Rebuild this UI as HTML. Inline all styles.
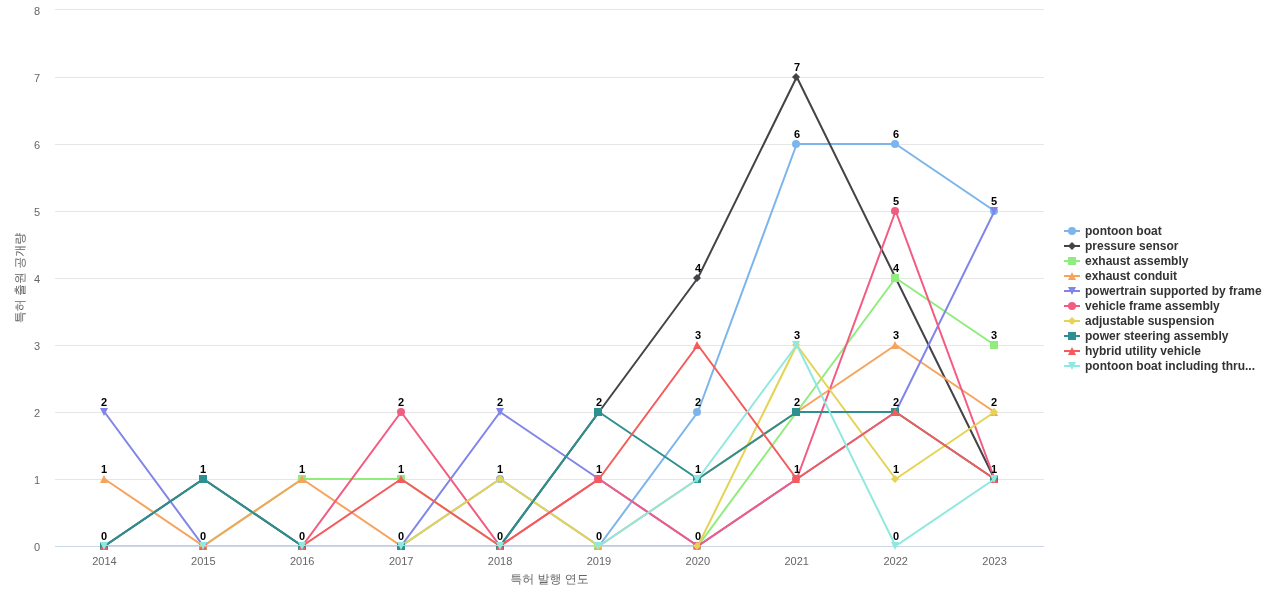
<!DOCTYPE html>
<html lang="ko">
<head>
<meta charset="utf-8">
<title>특허 출원 공개량</title>
<style>
html,body{margin:0;padding:0;background:#ffffff;}
body{width:1280px;height:600px;overflow:hidden;font-family:"Liberation Sans","WenQuanYi Zen Hei",sans-serif;}
svg{display:block;}
svg text{font-family:"Liberation Sans","WenQuanYi Zen Hei",sans-serif;}
.ax{font-size:11px;fill:#666666;}
.ttl{font-size:12px;fill:#666666;}
.dl{font-size:11px;font-weight:bold;fill:#000000;}
.lg{font-size:12px;font-weight:bold;fill:#333333;}
</style>
</head>
<body>
<svg width="1280" height="600" viewBox="0 0 1280 600">
<defs><clipPath id="plot"><rect x="55" y="10" width="989" height="536"/></clipPath></defs>
<rect x="0" y="0" width="1280" height="600" fill="#ffffff"/>

<g stroke="#e6e6e6" stroke-width="1" fill="none">
<path d="M55 546.5 L1044 546.5"/>
<path d="M55 479.5 L1044 479.5"/>
<path d="M55 412.5 L1044 412.5"/>
<path d="M55 345.5 L1044 345.5"/>
<path d="M55 278.5 L1044 278.5"/>
<path d="M55 211.5 L1044 211.5"/>
<path d="M55 144.5 L1044 144.5"/>
<path d="M55 77.5 L1044 77.5"/>
<path d="M55 9.5 L1044 9.5"/>
</g>
<path d="M55 546.5 L1044 546.5" stroke="#ccd6eb" stroke-width="1" fill="none"/>
<text class="ttl" x="549.5" y="583" text-anchor="middle">특허 발행 연도</text>
<text class="ttl" x="24" y="278" text-anchor="middle" transform="rotate(270 24 278)">특허 출원 공개량</text>
<g clip-path="url(#plot)"><path d="M 104.45 546 L 203.35 546 L 302.25 546 L 401.15 546 L 500.05 479 L 598.95 546 L 697.85 412 L 796.75 144 L 895.65 144 L 994.55 211" fill="none" stroke="#7cb5ec" stroke-width="2" stroke-linejoin="round" stroke-linecap="round"/></g>
<g>
<circle cx="104" cy="546" r="4" fill="#7cb5ec"/>
<circle cx="203" cy="546" r="4" fill="#7cb5ec"/>
<circle cx="302" cy="546" r="4" fill="#7cb5ec"/>
<circle cx="401" cy="546" r="4" fill="#7cb5ec"/>
<circle cx="500" cy="479" r="4" fill="#7cb5ec"/>
<circle cx="598" cy="546" r="4" fill="#7cb5ec"/>
<circle cx="697" cy="412" r="4" fill="#7cb5ec"/>
<circle cx="796" cy="144" r="4" fill="#7cb5ec"/>
<circle cx="895" cy="144" r="4" fill="#7cb5ec"/>
<circle cx="994" cy="211" r="4" fill="#7cb5ec"/>
</g>
<g clip-path="url(#plot)"><path d="M 104.45 546 L 203.35 479 L 302.25 546 L 401.15 546 L 500.05 546 L 598.95 412 L 697.85 278 L 796.75 77 L 895.65 278 L 994.55 479" fill="none" stroke="#434348" stroke-width="2" stroke-linejoin="round" stroke-linecap="round"/></g>
<g>
<path d="M104 542L108 546L104 550L100 546Z" fill="#434348"/>
<path d="M203 475L207 479L203 483L199 479Z" fill="#434348"/>
<path d="M302 542L306 546L302 550L298 546Z" fill="#434348"/>
<path d="M401 542L405 546L401 550L397 546Z" fill="#434348"/>
<path d="M500 542L504 546L500 550L496 546Z" fill="#434348"/>
<path d="M598 408L602 412L598 416L594 412Z" fill="#434348"/>
<path d="M697 274L701 278L697 282L693 278Z" fill="#434348"/>
<path d="M796 73L800 77L796 81L792 77Z" fill="#434348"/>
<path d="M895 274L899 278L895 282L891 278Z" fill="#434348"/>
<path d="M994 475L998 479L994 483L990 479Z" fill="#434348"/>
</g>
<g clip-path="url(#plot)"><path d="M 104.45 546 L 203.35 546 L 302.25 479 L 401.15 479 L 500.05 546 L 598.95 546 L 697.85 546 L 796.75 412 L 895.65 278 L 994.55 345" fill="none" stroke="#90ed7d" stroke-width="2" stroke-linejoin="round" stroke-linecap="round"/></g>
<g>
<rect x="100" y="542" width="8" height="8" fill="#90ed7d"/>
<rect x="199" y="542" width="8" height="8" fill="#90ed7d"/>
<rect x="298" y="475" width="8" height="8" fill="#90ed7d"/>
<rect x="397" y="475" width="8" height="8" fill="#90ed7d"/>
<rect x="496" y="542" width="8" height="8" fill="#90ed7d"/>
<rect x="594" y="542" width="8" height="8" fill="#90ed7d"/>
<rect x="693" y="542" width="8" height="8" fill="#90ed7d"/>
<rect x="792" y="408" width="8" height="8" fill="#90ed7d"/>
<rect x="891" y="274" width="8" height="8" fill="#90ed7d"/>
<rect x="990" y="341" width="8" height="8" fill="#90ed7d"/>
</g>
<g clip-path="url(#plot)"><path d="M 104.45 479 L 203.35 546 L 302.25 479 L 401.15 546 L 500.05 546 L 598.95 546 L 697.85 479 L 796.75 412 L 895.65 345 L 994.55 412" fill="none" stroke="#f7a35c" stroke-width="2" stroke-linejoin="round" stroke-linecap="round"/></g>
<g>
<path d="M104 475L108 483L100 483Z" fill="#f7a35c"/>
<path d="M203 542L207 550L199 550Z" fill="#f7a35c"/>
<path d="M302 475L306 483L298 483Z" fill="#f7a35c"/>
<path d="M401 542L405 550L397 550Z" fill="#f7a35c"/>
<path d="M500 542L504 550L496 550Z" fill="#f7a35c"/>
<path d="M598 542L602 550L594 550Z" fill="#f7a35c"/>
<path d="M697 475L701 483L693 483Z" fill="#f7a35c"/>
<path d="M796 408L800 416L792 416Z" fill="#f7a35c"/>
<path d="M895 341L899 349L891 349Z" fill="#f7a35c"/>
<path d="M994 408L998 416L990 416Z" fill="#f7a35c"/>
</g>
<g clip-path="url(#plot)"><path d="M 104.45 412 L 203.35 546 L 302.25 546 L 401.15 546 L 500.05 412 L 598.95 479 L 697.85 546 L 796.75 479 L 895.65 412 L 994.55 211" fill="none" stroke="#8085e9" stroke-width="2" stroke-linejoin="round" stroke-linecap="round"/></g>
<g>
<path d="M100 408L108 408L104 416Z" fill="#8085e9"/>
<path d="M199 542L207 542L203 550Z" fill="#8085e9"/>
<path d="M298 542L306 542L302 550Z" fill="#8085e9"/>
<path d="M397 542L405 542L401 550Z" fill="#8085e9"/>
<path d="M496 408L504 408L500 416Z" fill="#8085e9"/>
<path d="M594 475L602 475L598 483Z" fill="#8085e9"/>
<path d="M693 542L701 542L697 550Z" fill="#8085e9"/>
<path d="M792 475L800 475L796 483Z" fill="#8085e9"/>
<path d="M891 408L899 408L895 416Z" fill="#8085e9"/>
<path d="M990 207L998 207L994 215Z" fill="#8085e9"/>
</g>
<g clip-path="url(#plot)"><path d="M 104.45 546 L 203.35 546 L 302.25 546 L 401.15 412 L 500.05 546 L 598.95 479 L 697.85 546 L 796.75 479 L 895.65 211 L 994.55 479" fill="none" stroke="#f15c80" stroke-width="2" stroke-linejoin="round" stroke-linecap="round"/></g>
<g>
<circle cx="104" cy="546" r="4" fill="#f15c80"/>
<circle cx="203" cy="546" r="4" fill="#f15c80"/>
<circle cx="302" cy="546" r="4" fill="#f15c80"/>
<circle cx="401" cy="412" r="4" fill="#f15c80"/>
<circle cx="500" cy="546" r="4" fill="#f15c80"/>
<circle cx="598" cy="479" r="4" fill="#f15c80"/>
<circle cx="697" cy="546" r="4" fill="#f15c80"/>
<circle cx="796" cy="479" r="4" fill="#f15c80"/>
<circle cx="895" cy="211" r="4" fill="#f15c80"/>
<circle cx="994" cy="479" r="4" fill="#f15c80"/>
</g>
<g clip-path="url(#plot)"><path d="M 104.45 546 L 203.35 546 L 302.25 546 L 401.15 546 L 500.05 479 L 598.95 546 L 697.85 546 L 796.75 345 L 895.65 479 L 994.55 412" fill="none" stroke="#e4d354" stroke-width="2" stroke-linejoin="round" stroke-linecap="round"/></g>
<g>
<path d="M104 542L108 546L104 550L100 546Z" fill="#e4d354"/>
<path d="M203 542L207 546L203 550L199 546Z" fill="#e4d354"/>
<path d="M302 542L306 546L302 550L298 546Z" fill="#e4d354"/>
<path d="M401 542L405 546L401 550L397 546Z" fill="#e4d354"/>
<path d="M500 475L504 479L500 483L496 479Z" fill="#e4d354"/>
<path d="M598 542L602 546L598 550L594 546Z" fill="#e4d354"/>
<path d="M697 542L701 546L697 550L693 546Z" fill="#e4d354"/>
<path d="M796 341L800 345L796 349L792 345Z" fill="#e4d354"/>
<path d="M895 475L899 479L895 483L891 479Z" fill="#e4d354"/>
<path d="M994 408L998 412L994 416L990 412Z" fill="#e4d354"/>
</g>
<g clip-path="url(#plot)"><path d="M 104.45 546 L 203.35 479 L 302.25 546 L 401.15 546 L 500.05 546 L 598.95 412 L 697.85 479 L 796.75 412 L 895.65 412 L 994.55 479" fill="none" stroke="#2b908f" stroke-width="2" stroke-linejoin="round" stroke-linecap="round"/></g>
<g>
<rect x="100" y="542" width="8" height="8" fill="#2b908f"/>
<rect x="199" y="475" width="8" height="8" fill="#2b908f"/>
<rect x="298" y="542" width="8" height="8" fill="#2b908f"/>
<rect x="397" y="542" width="8" height="8" fill="#2b908f"/>
<rect x="496" y="542" width="8" height="8" fill="#2b908f"/>
<rect x="594" y="408" width="8" height="8" fill="#2b908f"/>
<rect x="693" y="475" width="8" height="8" fill="#2b908f"/>
<rect x="792" y="408" width="8" height="8" fill="#2b908f"/>
<rect x="891" y="408" width="8" height="8" fill="#2b908f"/>
<rect x="990" y="475" width="8" height="8" fill="#2b908f"/>
</g>
<g clip-path="url(#plot)"><path d="M 104.45 546 L 203.35 546 L 302.25 546 L 401.15 479 L 500.05 546 L 598.95 479 L 697.85 345 L 796.75 479 L 895.65 412 L 994.55 479" fill="none" stroke="#f45b5b" stroke-width="2" stroke-linejoin="round" stroke-linecap="round"/></g>
<g>
<path d="M104 542L108 550L100 550Z" fill="#f45b5b"/>
<path d="M203 542L207 550L199 550Z" fill="#f45b5b"/>
<path d="M302 542L306 550L298 550Z" fill="#f45b5b"/>
<path d="M401 475L405 483L397 483Z" fill="#f45b5b"/>
<path d="M500 542L504 550L496 550Z" fill="#f45b5b"/>
<path d="M598 475L602 483L594 483Z" fill="#f45b5b"/>
<path d="M697 341L701 349L693 349Z" fill="#f45b5b"/>
<path d="M796 475L800 483L792 483Z" fill="#f45b5b"/>
<path d="M895 408L899 416L891 416Z" fill="#f45b5b"/>
<path d="M994 475L998 483L990 483Z" fill="#f45b5b"/>
</g>
<g clip-path="url(#plot)"><path d="M 104.45 546 L 203.35 546 L 302.25 546 L 401.15 546 L 500.05 546 L 598.95 546 L 697.85 479 L 796.75 345 L 895.65 546 L 994.55 479" fill="none" stroke="#91e8e1" stroke-width="2" stroke-linejoin="round" stroke-linecap="round"/></g>
<g>
<path d="M100 542L108 542L104 550Z" fill="#91e8e1"/>
<path d="M199 542L207 542L203 550Z" fill="#91e8e1"/>
<path d="M298 542L306 542L302 550Z" fill="#91e8e1"/>
<path d="M397 542L405 542L401 550Z" fill="#91e8e1"/>
<path d="M496 542L504 542L500 550Z" fill="#91e8e1"/>
<path d="M594 542L602 542L598 550Z" fill="#91e8e1"/>
<path d="M693 475L701 475L697 483Z" fill="#91e8e1"/>
<path d="M792 341L800 341L796 349Z" fill="#91e8e1"/>
<path d="M891 542L899 542L895 550Z" fill="#91e8e1"/>
<path d="M990 475L998 475L994 483Z" fill="#91e8e1"/>
</g>
<g class="dl">
<text x="101" y="540">0</text>
<text x="200" y="540">0</text>
<text x="299" y="540">0</text>
<text x="398" y="540">0</text>
<text x="497" y="473">1</text>
<text x="596" y="540">0</text>
<text x="695" y="406">2</text>
<text x="794" y="138">6</text>
<text x="893" y="138">6</text>
<text x="991" y="205">5</text>
<text x="200" y="473">1</text>
<text x="497" y="540">0</text>
<text x="596" y="406">2</text>
<text x="695" y="272">4</text>
<text x="794" y="71">7</text>
<text x="893" y="272">4</text>
<text x="991" y="473">1</text>
<text x="299" y="473">1</text>
<text x="398" y="473">1</text>
<text x="695" y="540">0</text>
<text x="794" y="406">2</text>
<text x="991" y="339">3</text>
<text x="101" y="473">1</text>
<text x="695" y="473">1</text>
<text x="893" y="339">3</text>
<text x="991" y="406">2</text>
<text x="101" y="406">2</text>
<text x="497" y="406">2</text>
<text x="596" y="473">1</text>
<text x="794" y="473">1</text>
<text x="893" y="406">2</text>
<text x="398" y="406">2</text>
<text x="893" y="205">5</text>
<text x="794" y="339">3</text>
<text x="893" y="473">1</text>
<text x="695" y="339">3</text>
<text x="893" y="540">0</text>
</g>
<g class="ax" text-anchor="middle">
<text x="104.45" y="565">2014</text>
<text x="203.35" y="565">2015</text>
<text x="302.25" y="565">2016</text>
<text x="401.15" y="565">2017</text>
<text x="500.05" y="565">2018</text>
<text x="598.95" y="565">2019</text>
<text x="697.85" y="565">2020</text>
<text x="796.75" y="565">2021</text>
<text x="895.65" y="565">2022</text>
<text x="994.55" y="565">2023</text>
</g>
<g class="ax" text-anchor="end">
<text x="40" y="551">0</text>
<text x="40" y="484">1</text>
<text x="40" y="417">2</text>
<text x="40" y="350">3</text>
<text x="40" y="283">4</text>
<text x="40" y="216">5</text>
<text x="40" y="149">6</text>
<text x="40" y="82">7</text>
<text x="40" y="15">8</text>
</g>
<g class="lg">
<path d="M1064 231 L1080 231" stroke="#7cb5ec" stroke-width="2" fill="none"/>
<circle cx="1072" cy="231" r="4" fill="#7cb5ec"/>
<text x="1085" y="235">pontoon boat</text>
<path d="M1064 246 L1080 246" stroke="#434348" stroke-width="2" fill="none"/>
<path d="M1072 242L1076 246L1072 250L1068 246Z" fill="#434348"/>
<text x="1085" y="250">pressure sensor</text>
<path d="M1064 261 L1080 261" stroke="#90ed7d" stroke-width="2" fill="none"/>
<rect x="1068" y="257" width="8" height="8" fill="#90ed7d"/>
<text x="1085" y="265">exhaust assembly</text>
<path d="M1064 276 L1080 276" stroke="#f7a35c" stroke-width="2" fill="none"/>
<path d="M1072 272L1076 280L1068 280Z" fill="#f7a35c"/>
<text x="1085" y="280">exhaust conduit</text>
<path d="M1064 291 L1080 291" stroke="#8085e9" stroke-width="2" fill="none"/>
<path d="M1068 287L1076 287L1072 295Z" fill="#8085e9"/>
<text x="1085" y="295">powertrain supported by frame</text>
<path d="M1064 306 L1080 306" stroke="#f15c80" stroke-width="2" fill="none"/>
<circle cx="1072" cy="306" r="4" fill="#f15c80"/>
<text x="1085" y="310">vehicle frame assembly</text>
<path d="M1064 321 L1080 321" stroke="#e4d354" stroke-width="2" fill="none"/>
<path d="M1072 317L1076 321L1072 325L1068 321Z" fill="#e4d354"/>
<text x="1085" y="325">adjustable suspension</text>
<path d="M1064 336 L1080 336" stroke="#2b908f" stroke-width="2" fill="none"/>
<rect x="1068" y="332" width="8" height="8" fill="#2b908f"/>
<text x="1085" y="340">power steering assembly</text>
<path d="M1064 351 L1080 351" stroke="#f45b5b" stroke-width="2" fill="none"/>
<path d="M1072 347L1076 355L1068 355Z" fill="#f45b5b"/>
<text x="1085" y="355">hybrid utility vehicle</text>
<path d="M1064 366 L1080 366" stroke="#91e8e1" stroke-width="2" fill="none"/>
<path d="M1068 362L1076 362L1072 370Z" fill="#91e8e1"/>
<text x="1085" y="370">pontoon boat including thru...</text>
</g>
</svg>
</body>
</html>
